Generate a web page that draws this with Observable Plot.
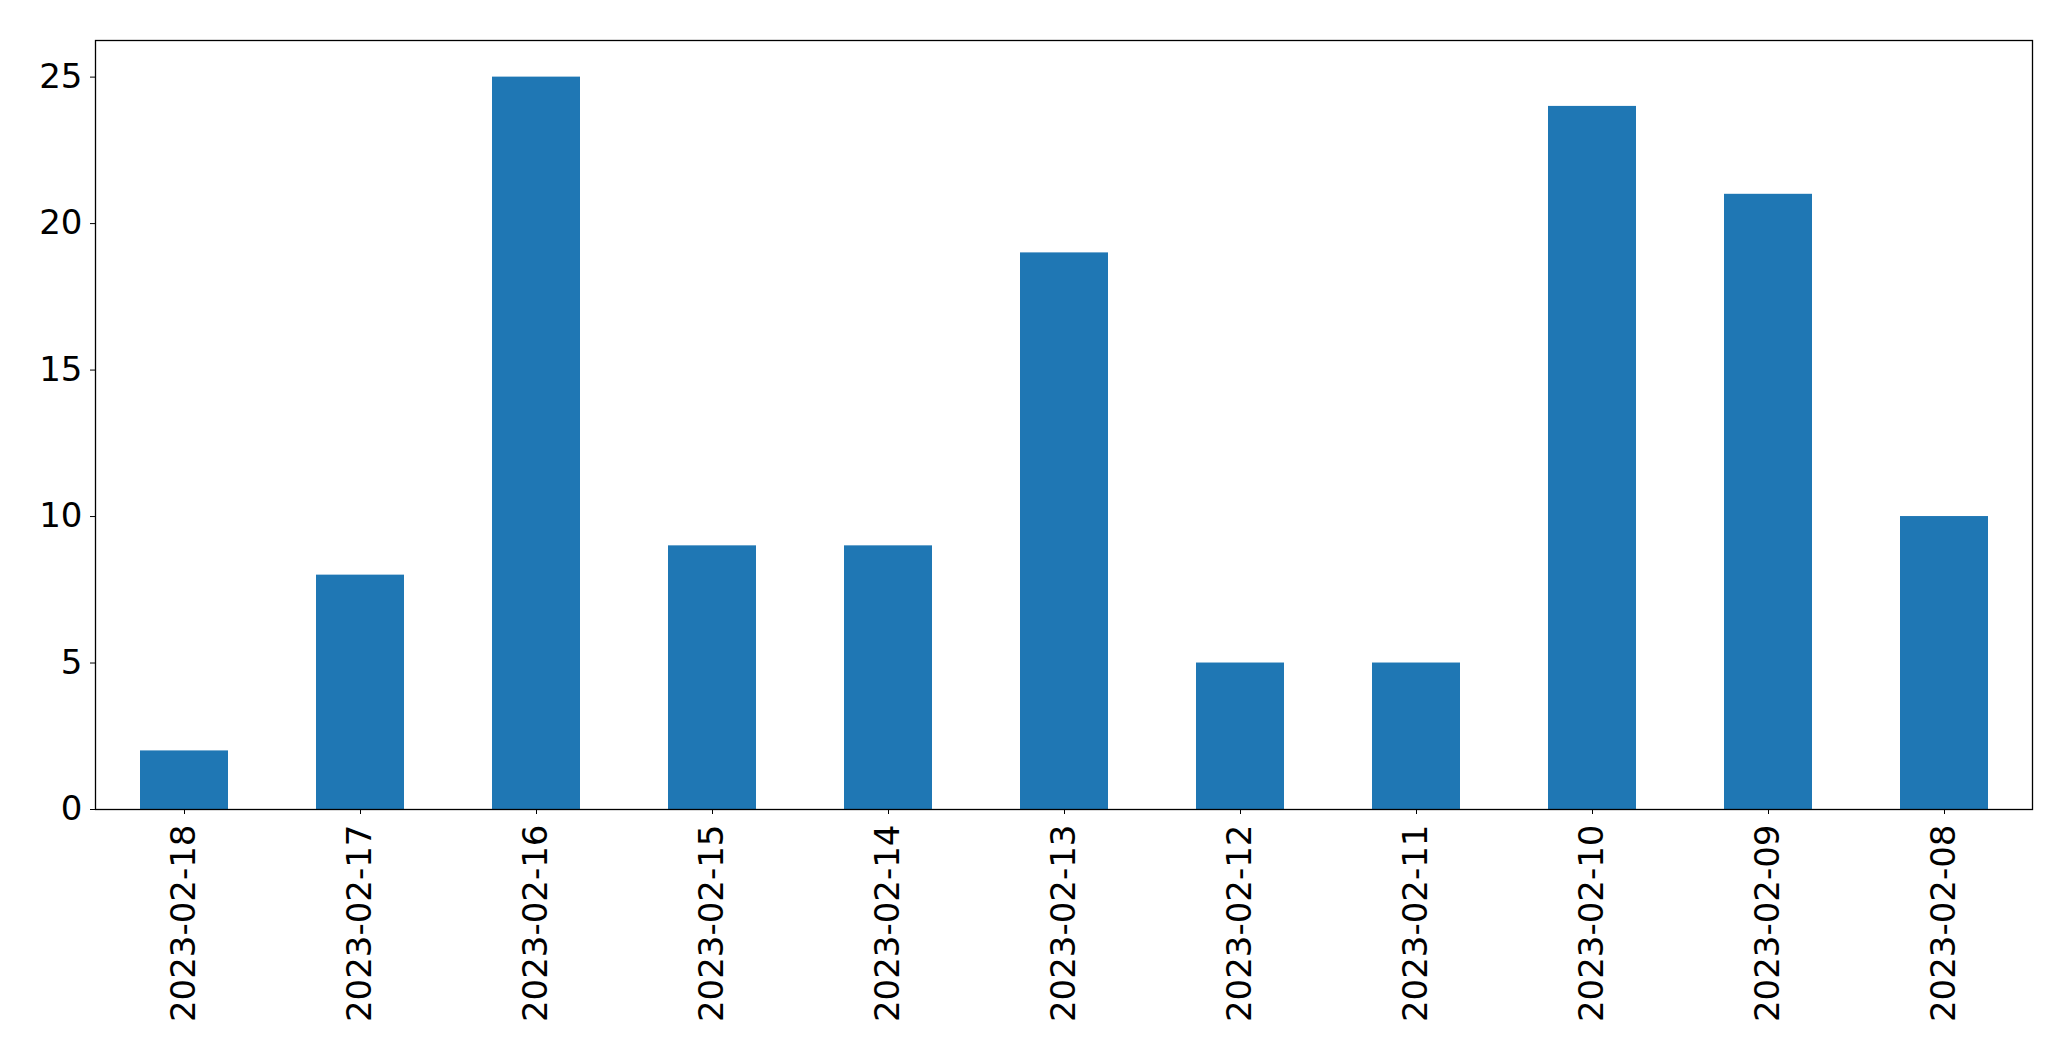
<!DOCTYPE html>
<html>
<head>
<meta charset="utf-8">
<script src="https://cdn.jsdelivr.net/npm/d3@7"></script>
<script src="https://cdn.jsdelivr.net/npm/@observablehq/plot@0.6"></script>
<style>
  html, body { margin: 0; padding: 0; background: #fff; }
</style>
</head>
<body>
<div id="chart"></div>
<script>
const dates = ["2023-02-18","2023-02-17","2023-02-16","2023-02-15","2023-02-14","2023-02-13","2023-02-12","2023-02-11","2023-02-10","2023-02-09","2023-02-08"];
const counts = [2, 8, 25, 9, 9, 19, 5, 5, 24, 21, 10];
const yTicks = [0, 5, 10, 15, 20, 25];

const data = dates.map((d, i) => ({date: d, count: counts[i]}));

const chart = Plot.plot({
  width: 2071,
  height: 1061,
  marginTop: 40,
  marginLeft: 95,
  marginRight: 39,
  marginBottom: 252,
  style: {fontFamily: "DejaVu Sans", fontSize: "34px", color: "#000", background: "#fff"},
  x: {domain: dates, paddingInner: 0.5, paddingOuter: 0.25, label: null},
  y: {domain: [0, 26.25], label: null},
  marks: [
    Plot.barY(data, {x: "date", y: "count", fill: "#1f77b4"}),
    Plot.axisY({ticks: yTicks, tickSize: 5, tickPadding: 8, label: null, fontSize: 34, tickFormat: d3.format("d")}),
    Plot.axisX({tickRotate: -90, tickSize: 5, tickPadding: 10, label: null, fontSize: 34}),
    Plot.frame({stroke: "#000", strokeWidth: 1.3})
  ]
});
document.getElementById("chart").appendChild(chart);
</script>
</body>
</html>
